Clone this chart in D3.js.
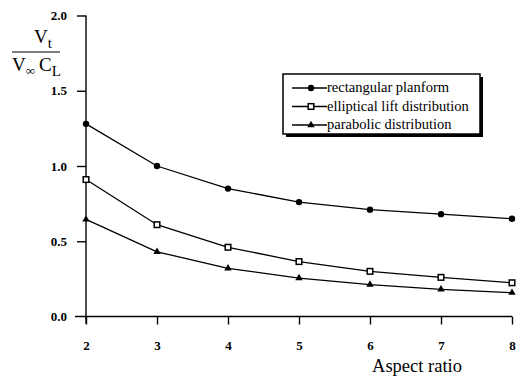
<!DOCTYPE html>
<html>
<head>
<meta charset="utf-8">
<script src="https://cdn.jsdelivr.net/npm/d3@7"></script>
<style>
  html, body { margin: 0; padding: 0; background: #fff; }
  svg { display: block; }
  text { font-family: "Liberation Serif", "Times New Roman", serif; fill: #000; }
</style>
</head>
<body>
<svg id="chart" width="518" height="379"></svg>
<script>
// Aspect ratios along the x axis
const aspectRatios = [2, 3, 4, 5, 6, 7, 8];
// Vt / (V∞ CL) for each loading case
const rectangularPlanform = [1.28, 1.0, 0.85, 0.76, 0.71, 0.68, 0.65];
const ellipticalLift = [0.91, 0.61, 0.46, 0.365, 0.30, 0.26, 0.224];
const parabolicDistribution = [0.645, 0.43, 0.32, 0.255, 0.212, 0.18, 0.158];
const seriesNames = ["rectangular planform", "elliptical lift distribution", "parabolic distribution"];
const xTicks = [2, 3, 4, 5, 6, 7, 8];
const yTicks = [0, 0.5, 1.0, 1.5, 2.0];

const svg = d3.select("#chart");
const x = d3.scaleLinear().domain([2, 8]).range([86, 512]);
const y = d3.scaleLinear().domain([0, 2]).range([316.5, 15.5]);
const serif = "'Liberation Serif', 'Times New Roman', serif";

// Axes
const xAxis = svg.append("g").attr("transform", `translate(0,${y(0)})`)
  .call(d3.axisBottom(x).tickValues(xTicks).tickFormat(d3.format("d")).tickSize(8).tickPadding(16));
xAxis.attr("font-family", serif);
xAxis.select(".domain").remove();
xAxis.append("line").attr("x1", 75).attr("x2", x(8)).attr("y1", 0).attr("y2", 0)
  .attr("stroke", "#000").attr("stroke-width", 1.4);
xAxis.selectAll(".tick line").attr("stroke-width", 1.4);
xAxis.selectAll(".tick text").style("font-size", "13px").style("font-weight", "bold");

const yAxis = svg.append("g").attr("transform", `translate(${x(2)},0)`)
  .call(d3.axisLeft(y).tickValues(yTicks).tickFormat(d3.format(".1f")).tickSize(9).tickPadding(10));
yAxis.attr("font-family", serif);
yAxis.select(".domain").attr("d", `M0,${y(2)}V${y(0) + 7}`).attr("stroke-width", 1.4);
yAxis.selectAll(".tick line").attr("stroke-width", 1.4);
yAxis.selectAll(".tick").filter(d => d === 0).select("line").attr("x2", 0);
yAxis.selectAll(".tick text").style("font-size", "13px").style("font-weight", "bold");

// Series lines
const line = d3.line().x((d, i) => x(aspectRatios[i])).y(d => y(d));
const allSeries = [rectangularPlanform, ellipticalLift, parabolicDistribution];
allSeries.forEach(s => {
  svg.append("path").datum(s).attr("d", line).attr("fill", "none")
    .attr("stroke", "#000").attr("stroke-width", 1.3);
});

// Markers
function marker(g, kind, cx, cy) {
  if (kind === 0) {
    g.append("circle").attr("cx", cx).attr("cy", cy).attr("r", 3.2).attr("fill", "#000");
  } else if (kind === 1) {
    g.append("rect").attr("x", cx - 2.8).attr("y", cy - 2.8).attr("width", 5.6).attr("height", 5.6)
      .attr("fill", "#fff").attr("stroke", "#000").attr("stroke-width", 1.5);
  } else {
    g.append("path").attr("d", d3.symbol(d3.symbolTriangle, 24)())
      .attr("transform", `translate(${cx},${cy})`).attr("fill", "#000");
  }
}
const markers = svg.append("g");
allSeries.forEach((s, k) => {
  s.forEach((v, i) => marker(markers, k, x(aspectRatios[i]), y(v)));
});

// Legend
const legend = svg.append("g");
legend.append("rect").attr("x", 286).attr("y", 77).attr("width", 197).attr("height", 60).attr("fill", "#000");
legend.append("rect").attr("x", 283).attr("y", 74).attr("width", 197).attr("height", 60)
  .attr("fill", "#fff").attr("stroke", "#000").attr("stroke-width", 1.5);
seriesNames.forEach((name, k) => {
  const ly = 88 + k * 18.5;
  legend.append("line").attr("x1", 292).attr("x2", 327).attr("y1", ly).attr("y2", ly)
    .attr("stroke", "#000").attr("stroke-width", 1.3);
  marker(legend, k, 311, ly);
  legend.append("text").attr("x", 327).attr("y", ly + 4).style("font-size", "14.5px")
    .text(name);
});

// Axis titles
svg.append("text").attr("x", 417).attr("y", 372).attr("text-anchor", "middle")
  .style("font-size", "18.5px").text("Aspect ratio");

const yl = svg.append("g");
const vt = yl.append("text").attr("x", 34).attr("y", 43).style("font-size", "19px");
vt.append("tspan").text("V");
vt.append("tspan").attr("dy", 5).style("font-size", "15px").text("t");
yl.append("line").attr("x1", 12).attr("x2", 60).attr("y1", 52).attr("y2", 52)
  .attr("stroke", "#000").attr("stroke-width", 1.2);
const den = yl.append("text").attr("x", 12).attr("y", 71).style("font-size", "19px");
den.append("tspan").text("V");
den.append("tspan").attr("dy", 4).style("font-size", "13px").text("∞");
den.append("tspan").attr("dy", -4).attr("dx", 4).text("C");
den.append("tspan").attr("dy", 5).style("font-size", "15px").text("L");
</script>
</body>
</html>
